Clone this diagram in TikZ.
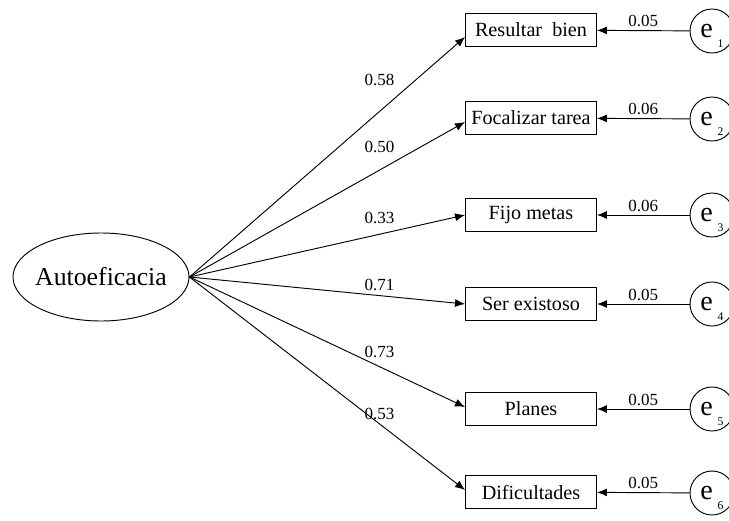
\documentclass[tikz,border=0pt]{standalone}
\usepackage{fontspec}
\setmainfont{Liberation Serif}
\usetikzlibrary{shapes.geometric,arrows.meta,positioning,calc}
\tikzstyle{latent} = [ellipse, minimum width = 52.8mm, minimum height = 26.4mm, inner sep = 0pt, draw = black, font = \fontsize{22}{25}\selectfont]
\tikzstyle{item} = [rectangle, minimum width = 39.3mm, minimum height = 9.9mm, text centered, draw = black, font = \fontsize{17.2}{20}\selectfont]
\tikzstyle{error} = [circle, minimum size = 13.2mm, inner sep = 0pt, draw = black]
\tikzstyle{coef} = [font = \fontsize{14.5}{16}\selectfont, inner sep = 1pt]
\tikzstyle{arrow} = [line width = 0.8pt, -{Latex[length = 3mm, width = 2.4mm]}]
\newcommand{\errlabel}[1]{\fontsize{24}{26}\selectfont e\hspace{4pt}\smash{\raisebox{-0.8ex}{\fontsize{10}{11}\selectfont #1}}}

\begin{document}
\begin{tikzpicture}[x = 0.3mm, y = -0.3mm, line width = 0.8pt]
    \useasboundingbox (0,0) rectangle (729,521);
    \node (auto) [latent] at (101,277) {\makebox[0pt]{Autoeficacia}};

    \node (resultar) [item] at (531,30) {Resultar\enspace bien};
    \node (focalizar) [item] at (531,118) {Focalizar tarea};
    \node (fijo) [item] at (531,215) {Fijo metas};
    \node (exitoso) [item] at (531,304) {Ser existoso};
    \node (planes) [item] at (531,409) {Planes};
    \node (dificultades) [item] at (531,492) {Dificultades};

    \node (e1) [error] at (712,31) {\errlabel{1}};
    \node (e2) [error] at (712,119) {\errlabel{2}};
    \node (e3) [error] at (712,215) {\errlabel{3}};
    \node (e4) [error] at (712,304) {\errlabel{4}};
    \node (e5) [error] at (712,409) {\errlabel{5}};
    \node (e6) [error] at (712,493) {\errlabel{6}};

    \draw [arrow] (auto.east) -- node [coef, pos = 0.69, yshift = 9.5mm] {0.58} ($(resultar.west)+(0,7)$);
    \draw [arrow] (auto.east) -- node [coef, pos = 0.69, yshift = 6.8mm] {0.50} ($(focalizar.west)+(0,4)$);
    \draw [arrow] (auto.east) -- node [coef, pos = 0.69, yshift = 5mm] {0.33} (fijo.west);
    \draw [arrow] (auto.east) -- node [coef, pos = 0.69, yshift = 3.2mm] {0.71} (exitoso.west);
    \draw [arrow] (auto.east) -- node [coef, pos = 0.69, yshift = 4.3mm] {0.73} ($(planes.west)+(0,-2)$);
    \draw [arrow] (auto.east) -- node [coef, pos = 0.69, yshift = 2.9mm] {0.53} ($(dificultades.west)+(0,-2)$);

    \draw [arrow] (e1) -- node [coef, above, yshift = 1.5pt] {0.05} (resultar);
    \draw [arrow] (e2) -- node [coef, above, yshift = 1.5pt] {0.06} (focalizar);
    \draw [arrow] (e3) -- node [coef, above, yshift = 1.5pt] {0.06} (fijo);
    \draw [arrow] (e4) -- node [coef, above, yshift = 1.5pt] {0.05} (exitoso);
    \draw [arrow] (e5) -- node [coef, above, yshift = 1.5pt] {0.05} (planes);
    \draw [arrow] (e6) -- node [coef, above, yshift = 1.5pt] {0.05} (dificultades);
\end{tikzpicture}
\end{document}
